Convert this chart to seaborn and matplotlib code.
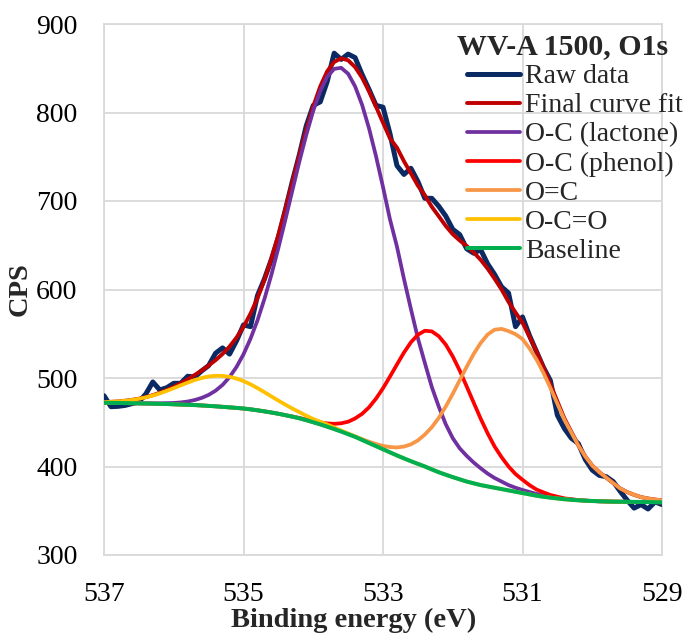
import matplotlib
matplotlib.use("Agg")
import matplotlib.pyplot as plt
import seaborn as sns

# Binding-energy grid shared by the spectrum and the fitted curves (eV)
energy = [537.0, 536.9, 536.8, 536.7, 536.6, 536.5, 536.4, 536.3, 536.2, 536.1,
          536.0, 535.9, 535.8, 535.7, 535.6, 535.5, 535.4, 535.3, 535.2, 535.1,
          535.0, 534.9, 534.8, 534.7, 534.6, 534.5, 534.4, 534.3, 534.2, 534.1,
          534.0, 533.9, 533.8, 533.7, 533.6, 533.5, 533.4, 533.3, 533.2, 533.1,
          533.0, 532.9, 532.8, 532.7, 532.6, 532.5, 532.4, 532.3, 532.2, 532.1,
          532.0, 531.9, 531.8, 531.7, 531.6, 531.5, 531.4, 531.3, 531.2, 531.1,
          531.0, 530.9, 530.8, 530.7, 530.6, 530.5, 530.4, 530.3, 530.2, 530.1,
          530.0, 529.9, 529.8, 529.7, 529.6, 529.5, 529.4, 529.3, 529.2, 529.1,
          529.0]

raw_data = [480, 467.6, 468, 469, 471, 473, 482, 495.5, 486.5, 489,
            494, 494, 502, 501, 508, 514, 528, 534, 527, 542,
            560, 558, 593, 612, 634, 659, 690, 722, 752, 785,
            808, 812, 835, 867, 860, 866, 862, 843, 826, 808,
            806, 776, 740, 730, 737, 722, 703, 703, 694, 683,
            668, 662, 646, 641, 645, 629, 617, 603, 596, 558,
            569, 548, 530, 512, 497, 458, 443, 432, 426, 408,
            396, 390, 388.5, 383, 372, 362, 353, 357, 352, 360,
            357]

final_fit = [472.7, 473.1, 473.5, 474.3, 475.3, 476.6, 478.4, 480.6, 483.3, 486.5,
             490, 494.1, 498.5, 503.4, 508.5, 514.1, 520.2, 527.2, 535.5, 545.7,
             557.8, 572.6, 590.1, 611, 634.9, 661.8, 690.7, 721.1, 751.7, 780.5,
             807, 829.4, 846.6, 857.1, 861.2, 859, 851.3, 839.4, 823.9, 806.6,
             788.5, 770.8, 760.3, 745, 731.3, 717.4, 706.5, 693.4, 682.7, 671.8,
             662.5, 655.4, 649.1, 641.9, 633.6, 623.6, 612.2, 600, 586, 574,
             562.5, 546.7, 530, 512.3, 492.8, 473.6, 454.5, 439.3, 424.3, 411.5,
             401, 393.7, 387.5, 381.3, 375.2, 371.1, 368, 365.4, 363.8, 362.7,
             361.6]

lactone = [472, 471.9, 471.8, 471.65, 471.6, 471.45, 471.4, 471.4, 471.4, 471.6,
           471.8, 472.4, 473.4, 475.1, 477.5, 480.9, 485.7, 492.2, 501, 512.5,
           526.8, 544.3, 565, 589.3, 616.7, 646.9, 678.8, 711.7, 744.3, 774.7,
           802, 824.2, 840.4, 849.3, 850.5, 843.8, 829.5, 808.7, 782, 750.5,
           715.8, 679.2, 648.5, 612.2, 578, 545, 517, 489.7, 467.5, 447.7,
           432, 420.5, 412, 404.5, 398, 392, 387, 383, 379, 376,
           373.5, 371.2, 369, 367.3, 365.8, 364.6, 363.5, 362.7, 362, 361.4,
           361, 360.7, 360.5, 360.3, 360.2, 360.1, 360, 359.9, 359.8, 359.7,
           359.6]

phenol = [472, 471.9, 471.8, 471.65, 471.5, 471.35, 471.2, 471, 470.8, 470.6,
          470.3, 470, 469.7, 469.4, 469, 468.5, 468, 467.4, 466.8, 466.2,
          465.5, 464.6, 463.5, 462.3, 461, 459.6, 458, 456.5, 454.9, 453,
          451.3, 449.8, 448.7, 448.2, 448.8, 450.6, 454.3, 459.5, 466.9, 476.7,
          488.4, 501.6, 515.3, 528.7, 540.3, 548.9, 553.4, 552.7, 547.2, 537.7,
          524.4, 508.4, 490.4, 472.2, 454.1, 437.5, 422.6, 410.5, 400, 391.5,
          385, 379, 374, 370.8, 367.8, 365.9, 364, 363, 362.1, 361.5,
          361, 360.7, 360.5, 360.3, 360.2, 360.1, 360, 359.9, 359.8, 359.7,
          359.6]

carbonyl = [472, 471.9, 471.8, 471.65, 471.5, 471.35, 471.2, 471, 470.8, 470.6,
            470.3, 470, 469.7, 469.4, 469, 468.5, 468, 467.4, 466.8, 466.2,
            465.5, 464.6, 463.5, 462.3, 461, 459.6, 458, 456.3, 454.5, 452.3,
            450, 447.6, 445, 442.4, 439.7, 436.8, 434, 430.9, 428, 425.4,
            423.3, 422, 421.5, 422.5, 425, 429.5, 436.1, 444.4, 455, 467.8,
            482.1, 497.5, 512.7, 527.2, 539.5, 549.1, 554.6, 555.5, 553, 549.5,
            544, 533.5, 521, 505.8, 488.8, 470.9, 453, 438.4, 423.8, 411.4,
            401, 393.7, 387.5, 381.3, 375.2, 371.1, 368, 365.4, 363.8, 362.7,
            361.6]

carboxyl = [472.7, 473.05, 473.5, 474.25, 475.2, 476.45, 478.2, 480.2, 482.7, 485.5,
            488.5, 491.7, 494.8, 497.7, 500, 501.7, 502.5, 502.4, 501.3, 499.4,
            496.5, 492.9, 488.6, 484, 479.2, 474.5, 469.9, 465.5, 461.5, 457.4,
            453.7, 450.6, 447.5, 444.1, 440.7, 437.3, 434, 430.3, 426.5, 423,
            419.5, 416, 412.5, 409.2, 406, 403, 400, 396.7, 393.5, 390.7,
            388, 385.5, 383, 381, 379, 377.5, 376, 374.5, 373, 371.5,
            370, 368.5, 367, 365.8, 364.8, 363.9, 363, 362.4, 361.8, 361.4,
            361, 360.7, 360.5, 360.3, 360.2, 360.1, 360, 359.9, 359.8, 359.7,
            359.6]

baseline = [472, 471.9, 471.8, 471.65, 471.5, 471.35, 471.2, 471, 470.8, 470.6,
            470.3, 470, 469.7, 469.4, 469, 468.5, 468, 467.4, 466.8, 466.2,
            465.5, 464.6, 463.5, 462.3, 461, 459.6, 458, 456.3, 454.5, 452.3,
            450, 447.6, 445, 442.3, 439.5, 436.5, 433.5, 430, 426.5, 423,
            419.5, 416, 412.5, 409.2, 406, 403, 400, 396.7, 393.5, 390.7,
            388, 385.5, 383, 381, 379, 377.5, 376, 374.5, 373, 371.5,
            370, 368.5, 367, 365.8, 364.8, 363.9, 363, 362.4, 361.8, 361.4,
            361, 360.7, 360.5, 360.3, 360.2, 360.1, 360, 359.9, 359.8, 359.7,
            359.6]

x_ticks = [537, 535, 533, 531, 529]
y_ticks = [300, 400, 500, 600, 700, 800, 900]

sns.set_theme(style="white")
plt.rcParams["font.family"] = ["Liberation Serif", "DejaVu Serif"]

fig = plt.figure(figsize=(6.88, 6.43), dpi=100)
ax = fig.add_axes([104 / 688, 1 - 555 / 643, 558 / 688, 531 / 643])

series = [
    (raw_data, "Raw data", "#0b2a63", 3.6),
    (final_fit, "Final curve fit", "#c00000", 2.8),
    (lactone, "O-C (lactone)", "#7030a0", 2.7),
    (phenol, "O-C (phenol)", "#ff0000", 2.7),
    (carbonyl, "O=C", "#f79646", 2.7),
    (carboxyl, "O-C=O", "#ffc000", 2.7),
    (baseline, "Baseline", "#00b050", 2.9),
]

for i, (ys, name, col, lw) in enumerate(series):
    sns.lineplot(x=energy, y=ys, ax=ax, color=col, linewidth=lw, label=name,
                 zorder=3 + i, solid_capstyle="round", solid_joinstyle="round")

ax.set_xlim(537, 529)
ax.set_ylim(300, 900)
ax.set_xticks(x_ticks)
ax.set_yticks(y_ticks)
ax.set_xticklabels([str(v) for v in x_ticks])
ax.set_yticklabels([str(v) for v in y_ticks])

ax.grid(True, color="#d9d9d9", linewidth=1.3)
ax.set_axisbelow(True)
for sp in ax.spines.values():
    sp.set_color("#d9d9d9")
    sp.set_linewidth(1.3)

ax.tick_params(axis="both", length=0, labelsize=20, colors="black")
ax.tick_params(axis="x", pad=19.5)
ax.tick_params(axis="y", pad=19)

ax.set_xlabel("Binding energy (eV)", fontsize=20.5, fontweight="bold")
ax.set_ylabel("CPS", fontsize=20.5, fontweight="bold")
ax.xaxis.set_label_coords(0.448, -0.100)
ax.yaxis.set_label_coords(-0.128, 0.5)

# Chart title sits above the legend entries, inside the plot corner
fig.text(563 / 688, 1 - 47 / 643, "WV-A 1500, O1s", ha="center", va="center",
         fontsize=21.5, fontweight="bold")

handles, labels = ax.get_legend_handles_labels()
ax.legend(handles, labels,
          loc="upper left", bbox_to_anchor=(467 / 688, 1 - 64 / 643),
          bbox_transform=fig.transFigure, frameon=False, fontsize=20,
          handlelength=1.9, handletextpad=0.2, labelspacing=0.13,
          borderpad=0, borderaxespad=0)

fig.savefig("out.png", dpi=100)
